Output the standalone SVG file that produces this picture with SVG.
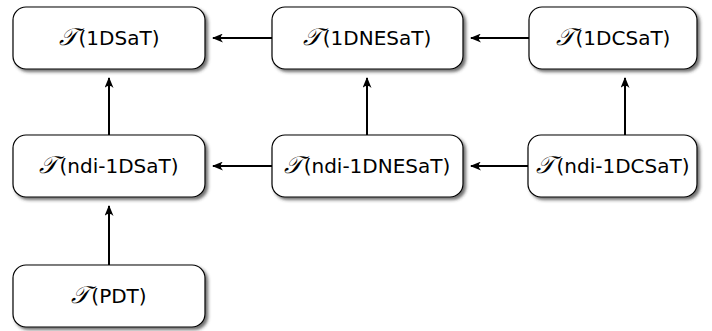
<svg xmlns="http://www.w3.org/2000/svg" width="712" height="331" viewBox="0 0 712 331">
<defs>
<filter id="sh" x="-10%" y="-10%" width="130%" height="140%">
<feDropShadow dx="2.5" dy="2.5" stdDeviation="1.6" flood-color="#333" flood-opacity="0.7"/>
</filter>
<marker id="ah" viewBox="0 0 11 9" refX="10" refY="4.5" markerWidth="5.5" markerHeight="4.5" orient="auto" markerUnits="strokeWidth">
<path d="M0,0 Q4.5,4.5 0,9 L11,4.5 Z" fill="#000"/>
</marker>
</defs>
<style>
.box{fill:#fff;stroke:#000;stroke-width:1.2;filter:url(#sh)}
.lbl{font-family:"DejaVu Sans","Liberation Sans",sans-serif;font-size:20px;text-anchor:middle;fill:#000}
.sc{font-family:"DejaVu Serif","Noto Sans",serif;font-style:italic;font-size:24px}
.con{stroke:#000;stroke-width:2;fill:none;marker-end:url(#ah)}
</style>
<g id="n1dsat"><rect class="box" x="13" y="7" width="192" height="62" rx="13"/><text class="lbl" x="109" y="45"><tspan class="sc">𝒯</tspan><tspan dx="2">(1DSaT)</tspan></text></g>
<g id="n1dnesat"><rect class="box" x="272" y="7" width="191" height="62" rx="13"/><text class="lbl" x="367" y="45"><tspan class="sc">𝒯</tspan><tspan dx="2">(1DNESaT)</tspan></text></g>
<g id="n1dcsat"><rect class="box" x="529" y="7" width="168" height="62" rx="13"/><text class="lbl" x="613" y="45"><tspan class="sc">𝒯</tspan><tspan dx="2">(1DCSaT)</tspan></text></g>
<g id="nndi1dsat"><rect class="box" x="13" y="135" width="192" height="62" rx="13"/><text class="lbl" x="109" y="173"><tspan class="sc">𝒯</tspan><tspan dx="2">(ndi-1DSaT)</tspan></text></g>
<g id="nndi1dnesat"><rect class="box" x="272" y="135" width="191" height="62" rx="13"/><text class="lbl" x="367" y="173"><tspan class="sc">𝒯</tspan><tspan dx="2">(ndi-1DNESaT)</tspan></text></g>
<g id="nndi1dcsat"><rect class="box" x="528" y="135" width="169" height="62" rx="13"/><text class="lbl" x="613" y="173"><tspan class="sc">𝒯</tspan><tspan dx="2">(ndi-1DCSaT)</tspan></text></g>
<g id="npdt"><rect class="box" x="13" y="265" width="192" height="62" rx="13"/><text class="lbl" x="109" y="303"><tspan class="sc">𝒯</tspan><tspan dx="2">(PDT)</tspan></text></g>
<g id="connectors">
<line class="con" x1="272" y1="38" x2="213" y2="38"/>
<line class="con" x1="529" y1="38" x2="471" y2="38"/>
<line class="con" x1="272" y1="166" x2="213" y2="166"/>
<line class="con" x1="528" y1="166" x2="471" y2="166"/>
<line class="con" x1="109" y1="135" x2="109" y2="78"/>
<line class="con" x1="367" y1="135" x2="367" y2="78"/>
<line class="con" x1="625" y1="135" x2="625" y2="78"/>
<line class="con" x1="109" y1="265" x2="109" y2="206"/>
</g>
</svg>
